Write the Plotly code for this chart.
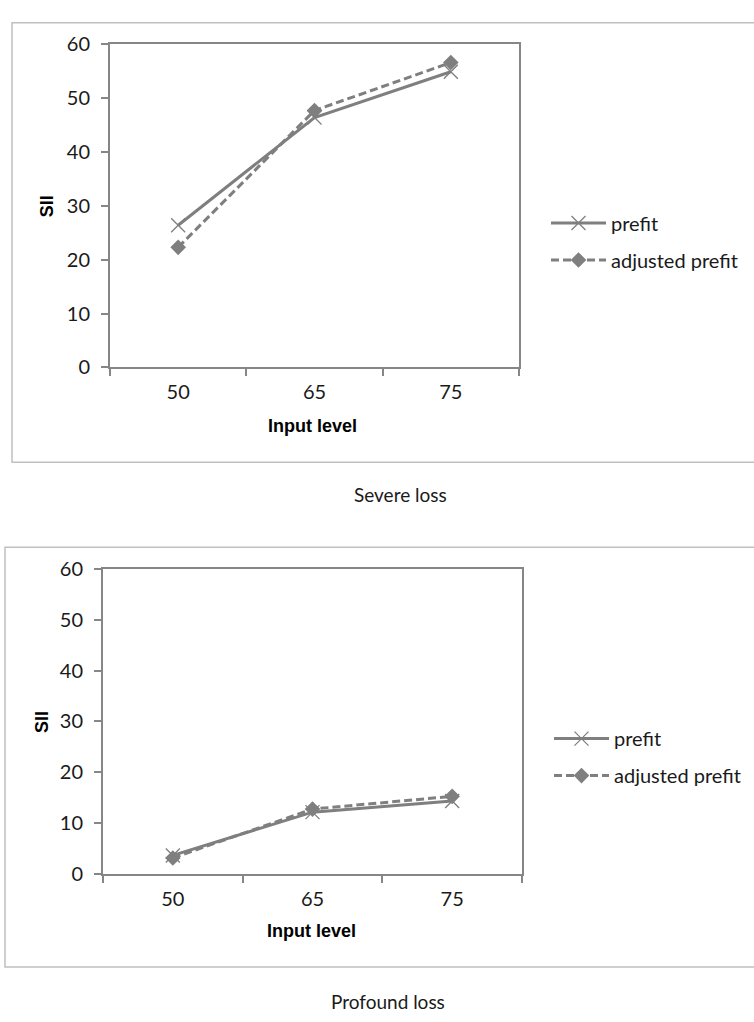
import plotly.graph_objects as go

W, H = 754, 1022

input_levels = ["50", "65", "75"]
severe_prefit = [26.4, 46.4, 54.9]
severe_adjusted = [22.3, 47.7, 56.6]
profound_prefit = [3.7, 12.2, 14.4]
profound_adjusted = [3.2, 12.8, 15.3]
y_ticks = [0, 10, 20, 30, 40, 50, 60]
captions = ["Severe loss", "Profound loss"]
series_names = ["prefit", "adjusted prefit"]

LINE = "#7f7f7f"
AXIS = "#868686"
FRAME = "#c0c0c0"
FONT = "Lato"


def px(x):
    return x / W


def py(y):
    return 1 - y / H


fig = go.Figure()


def add_pair(prefit, adjusted, xa, ya, legend):
    fig.add_trace(go.Scatter(
        x=input_levels, y=prefit, name=series_names[0], mode="lines+markers",
        line=dict(color=LINE, width=3),
        marker=dict(symbol="x-thin-open", size=14, color=LINE, line=dict(width=1.3, color=LINE)),
        xaxis=xa, yaxis=ya, legend=legend, legendgroup=legend + "a"))
    fig.add_trace(go.Scatter(
        x=input_levels, y=adjusted, name=series_names[1], mode="lines+markers",
        line=dict(color=LINE, width=3, dash="8px,4px"),
        marker=dict(symbol="diamond", size=12, color=LINE),
        xaxis=xa, yaxis=ya, legend=legend, legendgroup=legend + "b"))


add_pair(severe_prefit, severe_adjusted, "x", "y", "legend")
add_pair(profound_prefit, profound_adjusted, "x2", "y2", "legend2")

xcommon = dict(type="category", range=[-0.5, 2.5], tickson="boundaries",
               ticks="outside", ticklen=7, tickcolor=AXIS, tickwidth=1.5,
               showline=True, linecolor=AXIS, linewidth=2, mirror=True,
               showgrid=False, zeroline=False,
               tickfont=dict(family=FONT, size=20, color="#1a1a1a"),
               ticklabelstandoff=6, fixedrange=True)
ycommon = dict(range=[0, 60], tickvals=y_ticks, ticks="outside", ticklen=7,
               tickcolor=AXIS, tickwidth=1.5, showline=True, linecolor=AXIS,
               linewidth=2, mirror=True, showgrid=False, zeroline=False,
               tickfont=dict(family=FONT, size=20, color="#1a1a1a"),
               ticklabelstandoff=7, fixedrange=True)

legend_common = dict(font=dict(family=FONT, size=20, color="#1a1a1a"),
                     itemwidth=55, bgcolor="rgba(0,0,0,0)", tracegroupgap=8,
                     xanchor="left", yanchor="middle", itemclick=False)

fig.update_layout(
    width=W, height=H, margin=dict(l=0, r=0, t=0, b=0),
    paper_bgcolor="white", plot_bgcolor="white",
    xaxis=dict(domain=[px(110), px(519)], anchor="y", **xcommon),
    yaxis=dict(domain=[py(363), py(32)], anchor="x", **ycommon),
    xaxis2=dict(domain=[px(103), px(522)], anchor="y2", **xcommon),
    yaxis2=dict(domain=[py(882), py(569)], anchor="x2", **ycommon),
    legend=dict(x=px(546), y=py(234), **legend_common),
    legend2=dict(x=px(549), y=py(762), **legend_common),
    showlegend=True,
    shapes=[
        dict(type="rect", xref="paper", yref="paper", x0=px(12), x1=px(770),
             y0=py(460), y1=py(10), line=dict(color=FRAME, width=1.5)),
        dict(type="rect", xref="paper", yref="paper", x0=px(5), x1=px(770),
             y0=py(977), y1=py(547), line=dict(color=FRAME, width=1.5)),
    ],
)

ann = []
title_font = dict(family="Liberation Sans", size=18, color="#000000")
ann.append(dict(text="<b>SII</b>", x=px(47), y=py(198), textangle=-90, font=title_font))
ann.append(dict(text="<b>Input level</b>", x=px(312), y=py(423), font=title_font))
ann.append(dict(text="<b>SII</b>", x=px(42), y=py(726), textangle=-90, font=title_font))
ann.append(dict(text="<b>Input level</b>", x=px(311), y=py(940), font=title_font))
cap_font = dict(family=FONT, size=19, color="#1a1a1a")
ann.append(dict(text=captions[0], x=px(400), y=py(493), font=cap_font))
ann.append(dict(text=captions[1], x=px(388), y=py(1012), font=cap_font))
for a in ann:
    a.update(xref="paper", yref="paper", showarrow=False, xanchor="center", yanchor="middle")
fig.update_layout(annotations=ann)

fig.write_html("out.html")
